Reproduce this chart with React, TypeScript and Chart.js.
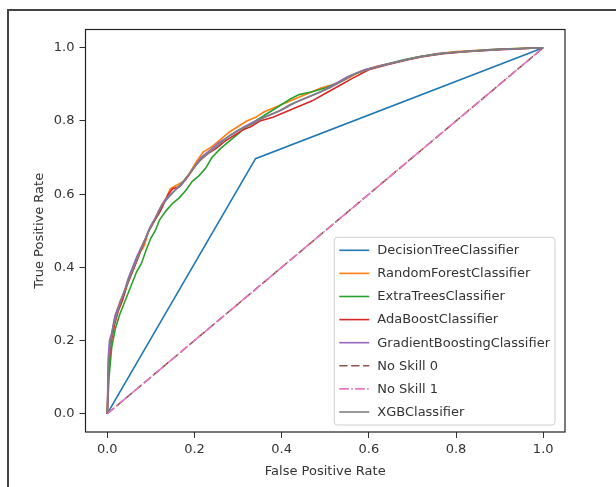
import React, { useEffect, useRef } from "react";
import { Chart, registerables } from "chart.js";

Chart.register(...registerables);

// ---- data (false positive rate, true positive rate) ----
const decisionTree: [number, number][] = [[0, 0], [0.34, 0.697], [1, 1]];

const randomForest: [number, number][] = [
  [0, 0], [0.003, 0.12], [0.008, 0.2], [0.015, 0.25], [0.022, 0.28], [0.03, 0.31], [0.04, 0.33],
  [0.047, 0.36], [0.055, 0.38], [0.065, 0.41], [0.075, 0.44], [0.085, 0.46], [0.095, 0.5],
  [0.105, 0.52], [0.115, 0.545], [0.125, 0.57], [0.135, 0.59], [0.145, 0.615], [0.16, 0.625],
  [0.175, 0.635], [0.19, 0.66], [0.205, 0.69], [0.22, 0.715], [0.24, 0.73], [0.26, 0.75],
  [0.28, 0.77], [0.3, 0.785], [0.32, 0.8], [0.34, 0.81], [0.36, 0.825], [0.38, 0.835],
  [0.4, 0.845], [0.43, 0.86], [0.46, 0.875], [0.49, 0.89], [0.52, 0.9], [0.55, 0.915],
  [0.58, 0.935], [0.62, 0.95], [0.66, 0.96], [0.7, 0.972], [0.75, 0.983], [0.8, 0.99],
  [0.86, 0.994], [0.92, 0.997], [1, 1],
];

const extraTrees: [number, number][] = [
  [0, 0], [0.004, 0.1], [0.01, 0.18], [0.018, 0.23], [0.028, 0.27], [0.038, 0.3], [0.048, 0.33],
  [0.058, 0.36], [0.068, 0.39], [0.078, 0.41], [0.09, 0.45], [0.1, 0.48], [0.11, 0.5],
  [0.12, 0.53], [0.135, 0.555], [0.15, 0.575], [0.165, 0.59], [0.18, 0.61], [0.195, 0.635],
  [0.21, 0.65], [0.225, 0.67], [0.24, 0.7], [0.26, 0.725], [0.28, 0.745], [0.3, 0.765],
  [0.32, 0.785], [0.34, 0.8], [0.36, 0.815], [0.38, 0.83], [0.4, 0.845], [0.42, 0.86],
  [0.44, 0.872], [0.47, 0.88], [0.5, 0.89], [0.53, 0.905], [0.56, 0.925], [0.6, 0.942],
  [0.64, 0.955], [0.68, 0.967], [0.72, 0.977], [0.77, 0.985], [0.82, 0.99], [0.88, 0.995],
  [0.94, 0.998], [1, 1],
];

const adaBoost: [number, number][] = [
  [0, 0], [0.003, 0.13], [0.008, 0.19], [0.016, 0.24], [0.025, 0.28], [0.035, 0.31], [0.045, 0.35],
  [0.055, 0.38], [0.065, 0.41], [0.075, 0.44], [0.085, 0.47], [0.095, 0.5], [0.105, 0.52],
  [0.12, 0.55], [0.13, 0.575], [0.14, 0.6], [0.15, 0.615], [0.165, 0.62], [0.18, 0.64],
  [0.195, 0.665], [0.21, 0.69], [0.23, 0.71], [0.25, 0.725], [0.27, 0.745], [0.29, 0.76],
  [0.31, 0.775], [0.33, 0.785], [0.35, 0.8], [0.38, 0.81], [0.41, 0.825], [0.44, 0.84],
  [0.47, 0.855], [0.5, 0.875], [0.53, 0.895], [0.56, 0.915], [0.6, 0.94], [0.64, 0.953],
  [0.68, 0.965], [0.72, 0.975], [0.77, 0.984], [0.83, 0.99], [0.9, 0.995], [1, 1],
];

const gradientBoosting: [number, number][] = [
  [0, 0], [0.002, 0.15], [0.005, 0.2], [0.01, 0.22], [0.018, 0.27], [0.028, 0.3], [0.038, 0.33],
  [0.048, 0.37], [0.058, 0.4], [0.068, 0.43], [0.078, 0.455], [0.088, 0.48], [0.098, 0.51],
  [0.11, 0.535], [0.12, 0.56], [0.13, 0.58], [0.14, 0.595], [0.155, 0.61], [0.17, 0.625],
  [0.185, 0.65], [0.2, 0.675], [0.215, 0.7], [0.235, 0.72], [0.255, 0.74], [0.275, 0.755],
  [0.295, 0.77], [0.315, 0.785], [0.34, 0.8], [0.37, 0.815], [0.4, 0.83], [0.43, 0.85],
  [0.46, 0.865], [0.49, 0.88], [0.52, 0.9], [0.55, 0.92], [0.59, 0.94], [0.63, 0.952],
  [0.67, 0.963], [0.71, 0.974], [0.76, 0.984], [0.82, 0.99], [0.89, 0.995], [1, 1],
];

const noSkill0: [number, number][] = [[0, 0], [1, 1]];
const noSkill1: [number, number][] = [[0, 0], [1, 1]];

const xgb: [number, number][] = [
  [0, 0], [0.003, 0.14], [0.007, 0.19], [0.014, 0.24], [0.024, 0.28], [0.034, 0.32], [0.044, 0.35],
  [0.054, 0.38], [0.064, 0.41], [0.074, 0.44], [0.084, 0.47], [0.094, 0.495], [0.104, 0.52],
  [0.115, 0.545], [0.125, 0.57], [0.14, 0.59], [0.155, 0.61], [0.17, 0.63], [0.185, 0.65],
  [0.2, 0.675], [0.22, 0.7], [0.24, 0.72], [0.26, 0.74], [0.28, 0.76], [0.3, 0.775],
  [0.33, 0.79], [0.36, 0.81], [0.39, 0.825], [0.42, 0.845], [0.45, 0.86], [0.48, 0.875],
  [0.51, 0.89], [0.54, 0.91], [0.57, 0.93], [0.61, 0.945], [0.65, 0.957], [0.69, 0.968],
  [0.73, 0.978], [0.78, 0.986], [0.84, 0.991], [0.91, 0.996], [1, 1],
];

const seriesLabels = [
  "DecisionTreeClassifier",
  "RandomForestClassifier",
  "ExtraTreesClassifier",
  "AdaBoostClassifier",
  "GradientBoostingClassifier",
  "No Skill 0",
  "No Skill 1",
  "XGBClassifier",
];
const seriesData = [decisionTree, randomForest, extraTrees, adaBoost, gradientBoosting, noSkill0, noSkill1, xgb];
const seriesColors = ["#1f77b4", "#ff7f0e", "#2ca02c", "#d62728", "#9467bd", "#8c564b", "#e377c2", "#7f7f7f"];
const seriesDash: number[][] = [[], [], [], [], [], [8.3, 3.6], [9.6, 2.4, 1.5, 2.4], []];

const tickValues = [0, 0.2, 0.4, 0.6, 0.8, 1.0];
const xTitle = "False Positive Rate";
const yTitle = "True Positive Rate";

const FONT = '"DejaVu Sans", sans-serif';
const TEXT = "#333333";

const framePlugin = {
  id: "axesFrame",
  afterDatasetsDraw(chart: any) {
    const { ctx, chartArea } = chart;
    ctx.save();
    ctx.strokeStyle = "#222";
    ctx.lineWidth = 1.2;
    ctx.strokeRect(chartArea.left, chartArea.top, chartArea.right - chartArea.left, chartArea.bottom - chartArea.top);
    ctx.restore();
  },
};

const legendPlugin = {
  id: "innerLegend",
  afterDraw(chart: any) {
    const { ctx, chartArea } = chart;
    const ds = chart.data.datasets;
    ctx.save();
    ctx.font = `13px ${FONT}`;
    let maxW = 0;
    ds.forEach((d: any) => (maxW = Math.max(maxW, ctx.measureText(d.label).width)));
    const rowH = 23.1;
    const padX = 5;
    const lineLen = 30;
    const gap = 8;
    const boxW = padX + lineLen + gap + maxW + padX;
    const boxH = 13 + rowH * (ds.length - 1) + 13;
    const right = chartArea.right - 10;
    const bottom = chartArea.bottom - 7;
    const left = right - boxW;
    const top = bottom - boxH;
    const r = 3;
    ctx.beginPath();
    ctx.moveTo(left + r, top);
    ctx.lineTo(right - r, top);
    ctx.quadraticCurveTo(right, top, right, top + r);
    ctx.lineTo(right, bottom - r);
    ctx.quadraticCurveTo(right, bottom, right - r, bottom);
    ctx.lineTo(left + r, bottom);
    ctx.quadraticCurveTo(left, bottom, left, bottom - r);
    ctx.lineTo(left, top + r);
    ctx.quadraticCurveTo(left, top, left + r, top);
    ctx.closePath();
    ctx.fillStyle = "rgba(255,255,255,0.8)";
    ctx.fill();
    ctx.strokeStyle = "#d0d0d0";
    ctx.lineWidth = 1;
    ctx.stroke();
    ds.forEach((d: any, i: number) => {
      const y = top + 13 + i * rowH;
      ctx.beginPath();
      ctx.setLineDash(d.borderDash || []);
      ctx.strokeStyle = d.borderColor;
      ctx.lineWidth = 1.6;
      ctx.moveTo(left + padX, y);
      ctx.lineTo(left + padX + lineLen, y);
      ctx.stroke();
      ctx.setLineDash([]);
      ctx.fillStyle = TEXT;
      ctx.textAlign = "left";
      ctx.textBaseline = "middle";
      ctx.fillText(d.label, left + padX + lineLen + gap, y + 0.5);
    });
    ctx.restore();
  },
};

export default function App() {
  const ref = useRef<HTMLCanvasElement | null>(null);

  useEffect(() => {
    if (!ref.current) return;
    const n = seriesLabels.length;
    const datasets = seriesLabels.map((label, i) => ({
      label,
      data: seriesData[i].map(([x, y]) => ({ x, y })),
      borderColor: seriesColors[i],
      backgroundColor: seriesColors[i],
      borderDash: seriesDash[i],
      borderWidth: 1.6,
      pointRadius: 0,
      tension: 0,
      fill: false,
      order: n - i,
    }));
    const setTicks = (scale: any) => {
      scale.ticks = tickValues.map((v) => ({ value: v }));
    };
    const chart = new Chart(ref.current, {
      type: "line",
      data: { datasets },
      options: {
        animation: false,
        responsive: false,
        devicePixelRatio: 1,
        layout: { padding: { left: 0, top: 29.5, right: 51, bottom: 0 } },
        plugins: { legend: { display: false }, tooltip: { enabled: false } },
        scales: {
          x: {
            type: "linear",
            min: -0.05,
            max: 1.05,
            afterBuildTicks: setTicks,
            afterFit: (s: any) => {
              s.height = 55;
            },
            border: { display: false },
            grid: { drawOnChartArea: false, drawTicks: true, tickLength: 6, tickColor: "#333", lineWidth: 1 },
            ticks: {
              color: TEXT,
              font: { family: FONT, size: 13 },
              padding: 4,
              maxRotation: 0,
              callback: (v: any) => Number(v).toFixed(1),
            },
            title: {
              display: true,
              text: xTitle,
              color: TEXT,
              font: { family: FONT, size: 13 },
              padding: { top: 0, bottom: 8 },
            },
          },
          y: {
            type: "linear",
            min: -0.05,
            max: 1.05,
            afterBuildTicks: setTicks,
            afterFit: (s: any) => {
              s.width = 85.5;
            },
            border: { display: false },
            grid: { drawOnChartArea: false, drawTicks: true, tickLength: 6, tickColor: "#333", lineWidth: 1 },
            ticks: {
              color: TEXT,
              font: { family: FONT, size: 13 },
              padding: 5,
              callback: (v: any) => Number(v).toFixed(1),
            },
            title: {
              display: true,
              text: yTitle,
              color: TEXT,
              font: { family: FONT, size: 13 },
              padding: { top: 32, bottom: 0 },
            },
          },
        },
      },
      plugins: [framePlugin, legendPlugin],
    } as any);
    return () => chart.destroy();
  }, []);

  return (
    <div style={{ position: "fixed", left: 0, top: 0, width: 616, height: 487, overflow: "hidden", background: "#fff" }}>
      <canvas ref={ref} width={616} height={487} style={{ position: "absolute", left: 0, top: 0, display: "block" }} />
      <div
        style={{
          position: "absolute",
          left: 7,
          top: 9,
          width: 800,
          height: 800,
          borderLeft: "2px solid #444",
          borderTop: "2px solid #444",
          pointerEvents: "none",
        }}
      />
    </div>
  );
}
